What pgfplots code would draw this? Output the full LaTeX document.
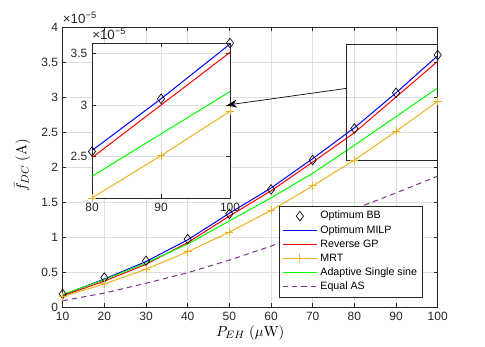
\documentclass[border=0pt]{standalone}
\usepackage[no-math]{fontspec}
\setmainfont{Liberation Sans}
\usepackage{pgfplots}
\usepackage{pgfplotstable}
\pgfplotsset{compat=1.18}
\usetikzlibrary{arrows.meta}
\definecolor{mrt}{rgb}{0.929,0.694,0.125}
\definecolor{eqas}{rgb}{0.494,0.184,0.556}
\definecolor{axgray}{gray}{0.15}

% values are in units of 1e-5 A
\pgfplotstableread{
P   BB    MILP  RGP   MRT   ASS   EAS
10  0.185 0.17  0.16  0.15  0.18  0.09
20  0.42  0.40  0.37  0.33  0.39  0.20
30  0.66  0.65  0.61  0.54  0.63  0.34
40  0.97  0.96  0.92  0.79  0.90  0.49
50  1.33  1.34  1.30  1.07  1.23  0.67
60  1.68  1.70  1.66  1.38  1.56  0.87
70  2.10  2.12  2.07  1.73  1.91  1.12
80  2.55  2.56  2.49  2.10  2.31  1.40
90  3.06  3.06  3.00  2.51  2.72  1.63
100 3.60  3.59  3.51  2.94  3.13  1.87
}\datatab

\pgfplotsset{
  matlab/.style={
    scale only axis,
    axis line style={axgray, line width=0.5pt},
    tick style={axgray, line width=0.5pt},
    tick align=inside, major tick length=2.8pt,
    grid=major, grid style={black!13, line width=0.4pt},
    ticklabel style={font=\fontsize{9}{10}\selectfont, text=axgray},
    /pgf/number format/assume math mode=true,
  },
  mleg/.style={legend image code/.code={
    \draw[mark repeat=2,mark phase=2,##1] plot coordinates {(0pt,0pt) (13pt,0pt) (26pt,0pt)};}},
  sBB/.style={only marks, mark=diamond, mark size=3.6pt, black, mark options={solid, line width=0.5pt}, mleg},
  sMILP/.style={blue, line width=0.75pt, no marks, mleg},
  sRGP/.style={red, line width=0.75pt, no marks, mleg},
  sMRT/.style={mrt, line width=0.75pt, mark=+, mark size=3pt, mark options={solid}, mleg},
  sASS/.style={green, line width=0.75pt, no marks, mleg},
  sEAS/.style={eqas, line width=0.75pt, no marks, dash pattern=on 4pt off 3pt, mleg},
}

\begin{document}
\begin{tikzpicture}
\useasboundingbox (-47pt,-29.25pt) rectangle (316.7pt,230.25pt);
\begin{axis}[matlab, name=main,
  at={(0pt,0pt)}, anchor=south west,
  width=281.25pt, height=210pt,
  xmin=10, xmax=100, ymin=0, ymax=4,
  xtick={10,20,...,100}, ytick={0,0.5,...,4},
  yticklabels={0,0.5,1,1.5,2,2.5,3,3.5,4},
  every axis x label/.style={at={(axis description cs:0.5,-0.093)}, anchor=center},
  every axis y label/.style={at={(axis description cs:-0.108,0.507)}, rotate=90, anchor=center},
  xlabel={\fontsize{11}{13}\selectfont $P_{EH}\ (\mu\mathrm{W})$},
  ylabel={\fontsize{11}{13}\selectfont $\bar{f}_{DC}\ (\mathrm{A})$},
  legend style={at={(rel axis cs:0.96,0.035)}, anchor=south east,
    font=\fontsize{8}{9}\selectfont, draw=axgray, line width=0.5pt,
    row sep=-0.6pt, inner sep=2pt},
  legend cell align=left,
]
\addplot[sBB]   table[x=P, y=BB]   {\datatab};
\addplot[sMILP] table[x=P, y=MILP] {\datatab};
\addplot[sRGP]  table[x=P, y=RGP]  {\datatab};
\addplot[sMRT]  table[x=P, y=MRT]  {\datatab};
\addplot[sASS]  table[x=P, y=ASS]  {\datatab};
\addplot[sEAS]  table[x=P, y=EAS]  {\datatab};
\legend{Optimum BB, Optimum MILP, Reverse GP, MRT, Adaptive Single sine, Equal AS}
\draw[axgray, line width=0.6pt] (axis cs:78.2,2.1) rectangle (axis cs:100,3.757);
\end{axis}

\begin{axis}[matlab, name=inset,
  at={(22pt,81.75pt)}, anchor=south west,
  width=103.5pt, height=116.25pt,
  axis background/.style={fill=white},
  xmin=80, xmax=100, ymin=2.1, ymax=3.6,
  xtick={80,90,100}, ytick={2.5,3,3.5},
]
\addplot[sBB]   table[x=P, y=BB]   {\datatab};
\addplot[sMILP] table[x=P, y=MILP] {\datatab};
\addplot[sRGP]  table[x=P, y=RGP]  {\datatab};
\addplot[sMRT]  table[x=P, y=MRT]  {\datatab};
\addplot[sASS]  table[x=P, y=ASS]  {\datatab};
\end{axis}

\node[anchor=south west, inner sep=0pt, font=\fontsize{10}{11}\selectfont, text=axgray]
  at ([yshift=2.5pt]main.north west) {×10\textsuperscript{−5}};
\node[anchor=south west, inner sep=0pt, font=\fontsize{10}{11}\selectfont, text=axgray]
  at ([yshift=2.5pt]inset.north west) {×10\textsuperscript{−5}};
\draw[-{Stealth[length=7pt,width=6pt]}, line width=0.5pt] (213pt,164pt) -- (123.6pt,151.5pt);
\end{tikzpicture}
\end{document}
